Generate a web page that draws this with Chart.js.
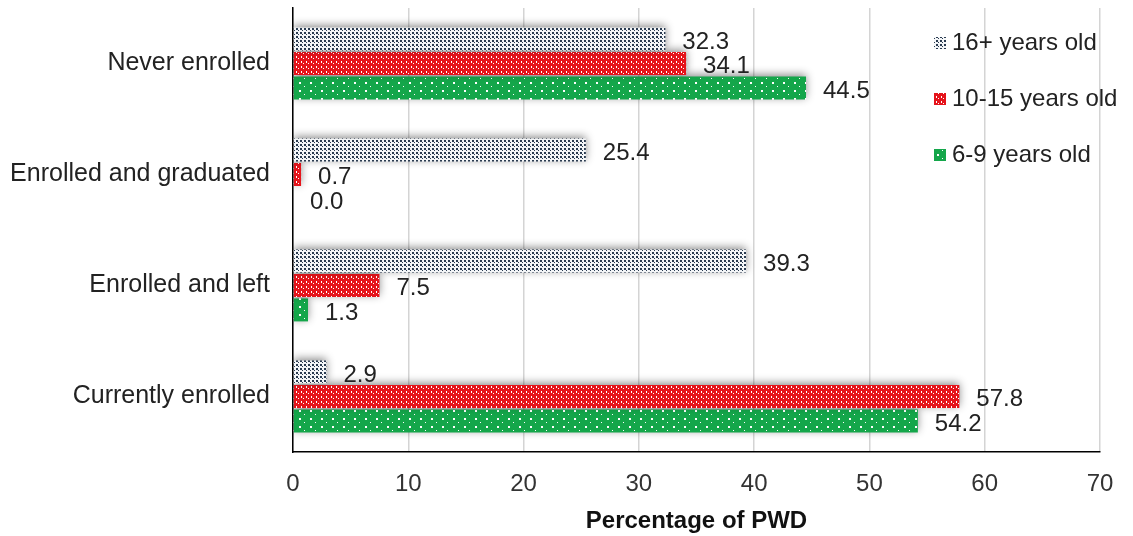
<!DOCTYPE html>
<html>
<head>
<meta charset="utf-8">
<script src="https://cdn.jsdelivr.net/npm/chart.js@4/dist/chart.umd.min.js"></script>
<style>
html,body{margin:0;padding:0;background:#fff;}
#wrap{width:1133px;height:536px;position:relative;}
</style>
</head>
<body>
<div id="wrap"><canvas id="c"></canvas></div>
<script>
const categories = ["Never enrolled", "Enrolled and graduated", "Enrolled and left", "Currently enrolled"];
const seriesNames = ["16+ years old", "10-15 years old", "6-9 years old"];
const age16plus = [32.3, 25.4, 39.3, 2.9];
const age10to15 = [34.1, 0.7, 7.5, 57.8];
const age6to9 = [44.5, 0.0, 1.3, 54.2];
const xTicks = [0, 10, 20, 30, 40, 50, 60, 70];
const axisTitle = "Percentage of PWD";

function makePattern(w, h, bg, fg, dots) {
  const c = document.createElement('canvas');
  c.width = w; c.height = h;
  const g = c.getContext('2d');
  g.fillStyle = bg; g.fillRect(0, 0, w, h);
  g.fillStyle = fg;
  dots.forEach(d => g.fillRect(d[0], d[1], d[2], d[3]));
  return g.createPattern(c, 'repeat');
}
const patGray = makePattern(4, 4, '#f4f6f8', '#2a3b50', [[0,0,2,2],[2,2,1,1]]);
const patRed = makePattern(5, 5, '#e5141b', '#ffffff', [[1,1,1,2],[3,3,1,1]]);
const patGreen = makePattern(11, 8, '#14a64a', '#ffffff', [[2,2,2,2],[7,6,1,1]]);
const fills = [patGray, patRed, patGreen];

const FONT = "'Liberation Sans', Arial, sans-serif";

const shadowPlugin = {
  id: 'shadow',
  beforeDatasetsDraw(chart) {
    const ctx = chart.ctx;
    ctx.save();
    ctx.shadowColor = 'rgba(0,0,0,0.45)';
    ctx.shadowBlur = 9;
    ctx.shadowOffsetX = 0;
    ctx.shadowOffsetY = -2;
  },
  afterDatasetsDraw(chart) {
    chart.ctx.restore();
  }
};

const labelPlugin = {
  id: 'valLabels',
  afterDatasetsDraw(chart) {
    const ctx = chart.ctx;
    ctx.save();
    ctx.font = "24px " + FONT;
    ctx.fillStyle = '#222';
    ctx.textAlign = 'left';
    ctx.textBaseline = 'middle';
    chart.data.datasets.forEach((ds, i) => {
      const meta = chart.getDatasetMeta(i);
      meta.data.forEach((el, j) => {
        ctx.fillText(ds.data[j].toFixed(1), el.x + 17, el.y + 3);
      });
    });
    ctx.restore();
  }
};

const legendPlugin = {
  id: 'customLegend',
  afterDraw(chart) {
    const ctx = chart.ctx;
    ctx.save();
    ctx.font = "24px " + FONT;
    ctx.textBaseline = 'middle';
    ctx.textAlign = 'left';
    seriesNames.forEach((name, i) => {
      const y = 43 + i * 56;
      const x = 934;
      ctx.fillStyle = fills[i];
      ctx.fillRect(x, y - 6, 12, 12);
      ctx.fillStyle = '#222';
      ctx.fillText(name, x + 18, y);
    });
    ctx.restore();
  }
};

const datasets = [age16plus, age10to15, age6to9].map((d, i) => ({
  label: seriesNames[i],
  data: d,
  backgroundColor: fills[i],
  borderWidth: 0,
  barPercentage: 0.94,
  categoryPercentage: 0.66
}));

new Chart(document.getElementById('c'), {
  type: 'bar',
  data: { labels: categories, datasets },
  options: {
    indexAxis: 'y',
    responsive: true,
    maintainAspectRatio: false,
    animation: false,
    layout: { padding: { left: 0, right: 33, top: 8, bottom: 0 } },
    plugins: { legend: { display: false }, tooltip: { enabled: false } },
    scales: {
      x: {
        min: 0, max: 70,
        afterBuildTicks(scale) { scale.ticks = xTicks.map(v => ({ value: v })); },
        afterFit(scale) { scale.height = 84; },
        grid: { color: '#d4d4d4', lineWidth: 1.5, drawTicks: false },
        border: { color: '#000', width: 1.5 },
        ticks: { padding: 18, color: '#333', font: { size: 24, family: FONT } },
        title: { display: true, text: axisTitle, color: '#111',
                 font: { size: 24, weight: 'bold', family: FONT },
                 padding: { top: 0, bottom: 0 } }
      },
      y: {
        afterFit(scale) { scale.width = 293; scale.paddingTop = 0; scale.paddingBottom = 0; },
        grid: { display: false, drawTicks: false },
        border: { color: '#000', width: 1.5 },
        ticks: { padding: 23, color: '#222', font: { size: 25, family: FONT } }
      }
    }
  },
  plugins: [shadowPlugin, labelPlugin, legendPlugin]
});
</script>
</body>
</html>
